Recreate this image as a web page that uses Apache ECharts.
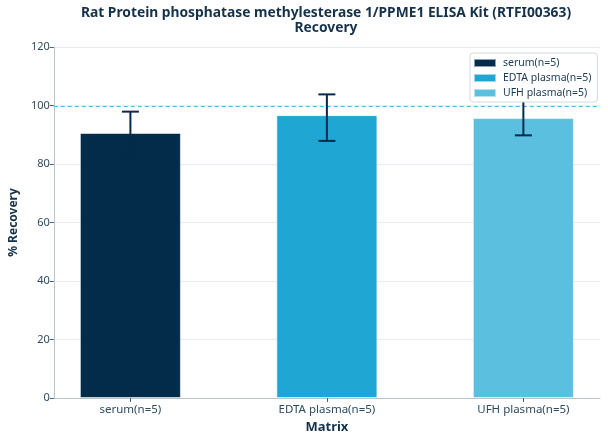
<!DOCTYPE html>
<html><head><meta charset="utf-8">
<script src="https://cdn.jsdelivr.net/npm/echarts@6/dist/echarts.min.js"></script>
<style>html,body{margin:0;padding:0;background:#fff}#c{width:608px;height:444px}</style>
</head><body><div id="c"></div>
<script>
const categories = ['serum(n=5)', 'EDTA plasma(n=5)', 'UFH plasma(n=5)'];
const means = [90.6, 96.7, 95.7];
const errLow = [83.3, 87.9, 89.8];
const errHigh = [97.9, 103.8, 101.8];
const colors = ['#032B4A', '#1FA6D3', '#5BBFE0'];
const yTicks = [0, 20, 40, 60, 80, 100, 120];
const refLine = [100];

const font = 'Noto Sans';
const chart = echarts.init(document.getElementById('c'), null, {renderer: 'canvas'});

const barSeries = categories.map((c, i) => ({
  name: c,
  type: 'bar',
  data: [[i, means[i]]],
  barWidth: 101,
  barGap: '-100%',
  itemStyle: {color: colors[i], borderColor: 'rgba(255,255,255,0.55)', borderWidth: 1},
  z: 2
}));

const refSeries = {
  type: 'custom',
  name: 'ref',
  silent: true,
  z: 1,
  data: refLine.map(v => [0, v]),
  renderItem: function (params, api) {
    const cs = params.coordSys;
    const p = api.coord([0, api.value(1)]);
    const y = Math.round(p[1]) + 0.5;
    return {type: 'line', shape: {x1: cs.x, y1: y, x2: cs.x + cs.width, y2: y},
      style: {stroke: '#4CBDE6', fill: null, lineWidth: 1, lineDash: [4, 3], opacity: 1}};
  }
};

const errSeries = {
  type: 'custom',
  name: 'err',
  z: 3,
  silent: true,
  data: categories.map((c, i) => [i, errLow[i], errHigh[i]]),
  renderItem: function (params, api) {
    const x = api.value(0);
    const lo = api.coord([x, api.value(1)]);
    const hi = api.coord([x, api.value(2)]);
    const hw = 8.5;
    const st = {stroke: '#032B4A', lineWidth: 2};
    return {
      type: 'group',
      children: [
        {type: 'line', shape: {x1: hi[0], y1: hi[1], x2: lo[0], y2: lo[1]}, style: st},
        {type: 'line', shape: {x1: hi[0] - hw, y1: hi[1], x2: hi[0] + hw, y2: hi[1]}, style: st},
        {type: 'line', shape: {x1: lo[0] - hw, y1: lo[1], x2: lo[0] + hw, y2: lo[1]}, style: st}
      ]
    };
  }
};

chart.setOption({
  backgroundColor: '#fff',
  animation: false,
  textStyle: {fontFamily: font},
  tooltip: {show: false},
  graphic: [
    {type: 'text', x: 326, y: 13.5, style: {text: 'Rat Protein phosphatase methylesterase 1/PPME1 ELISA Kit (RTFI00363)', font: 'bold 13.8px "Noto Sans"', fill: '#15324A', textAlign: 'center', textVerticalAlign: 'middle'}},
    {type: 'text', x: 326, y: 28.5, style: {text: 'Recovery', font: 'bold 13.8px "Noto Sans"', fill: '#15324A', textAlign: 'center', textVerticalAlign: 'middle'}}
  ],
  legend: {
    data: categories,
    orient: 'vertical',
    left: 470, top: 53,
    padding: [4, 6, 3, 3],
    itemGap: 3,
    itemWidth: 22, itemHeight: 8,
    backgroundColor: '#fff',
    borderColor: '#D3DAE0', borderWidth: 1, borderRadius: 3,
    icon: 'rect',
    textStyle: {fontFamily: font, fontSize: 10.5, color: '#1B3A50', lineHeight: 12, padding: [0, 0, 0, 2]},
    z: 10
  },
  grid: {left: 53, right: 8, top: 47, bottom: 46, containLabel: false},
  xAxis: {
    type: 'value',
    min: -0.39, max: 2.39,
    name: 'Matrix', nameLocation: 'middle', nameGap: 23,
    nameTextStyle: {fontFamily: font, fontSize: 13, fontWeight: 'bold', color: '#15324A'},
    axisLine: {show: true, onZero: false, lineStyle: {color: '#B8C4CE', width: 1}},
    axisTick: {show: true, length: 4, customValues: [0, 1, 2], lineStyle: {color: '#4A5F70'}},
    axisLabel: {customValues: [0, 1, 2], margin: 6, fontFamily: font, fontSize: 11.5, color: '#2E4A5F',
      formatter: v => categories[Math.round(v)] || ''},
    splitLine: {show: false},
    axisPointer: {show: false}
  },
  yAxis: {
    type: 'value', min: 0, max: 120, interval: 20,
    name: '% Recovery', nameLocation: 'middle', nameGap: 33, nameRotate: 90,
    nameTextStyle: {fontFamily: font, fontSize: 12, fontWeight: 'bold', color: '#15324A'},
    axisLine: {show: true, onZero: false, lineStyle: {color: '#B8C4CE', width: 1}},
    axisTick: {show: true, length: 4, lineStyle: {color: '#4A5F70'}},
    axisLabel: {margin: 4, fontFamily: font, fontSize: 11, color: '#2E4A5F',
      formatter: v => yTicks.indexOf(v) >= 0 ? String(v) : ''},
    splitLine: {show: true, lineStyle: {color: '#E6ECF1', width: 1}},
    axisPointer: {show: false}
  },
  series: barSeries.concat([refSeries, errSeries])
});
</script></body></html>
